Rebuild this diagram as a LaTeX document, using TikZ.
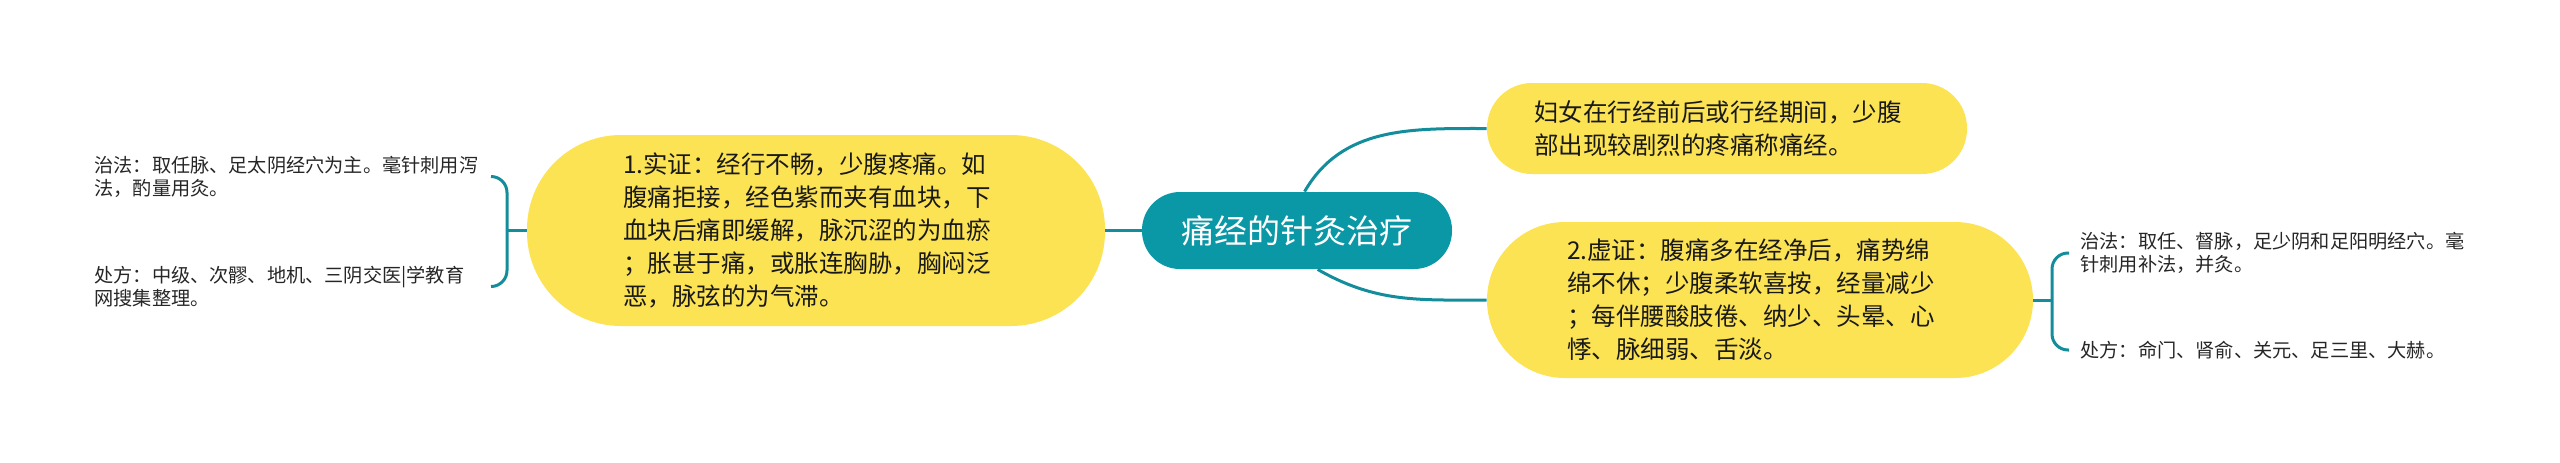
\documentclass[tikz,border=0pt]{standalone}
\usepackage{fontspec}
\newfontfamily\cjk{Noto Sans CJK SC}
\usetikzlibrary{calc}
\definecolor{huang}{HTML}{FCE354}
\definecolor{qing}{HTML}{0A97A6}
\definecolor{xian}{HTML}{138D9C}
\begin{document}
\begin{tikzpicture}[x=0.5pt,y=-0.5pt,
    pao/.style={fill=huang,rounded corners=#1,text width=193pt,align=left,text=black!90,
      font=\cjk\fontsize{12.25}{16.5}\selectfont},
    ye/.style={anchor=west,inner sep=0pt,align=left,text=black!85,
      font=\cjk\fontsize{9.6}{11.5}\selectfont},
    link/.style={draw=xian,line width=1.5pt}]
  \useasboundingbox (0,0) rectangle (2560,462);
  \node[fill=qing,rounded corners=19pt,minimum width=155pt,minimum height=38.5pt,
    text=white,font=\cjk\fontsize{16.5}{18}\selectfont] (tong) at (1297,230.5) {痛经的针灸治疗};
  \node[pao=47pt,minimum width=289pt,minimum height=95.5pt] (shi) at (816,230.5)
    {1.实证：经行不畅，少腹疼痛。如\\腹痛拒接，经色紫而夹有血块，下\\血块后痛即缓解，脉沉涩的为血瘀\\；胀甚于痛，或胀连胸胁，胸闷泛\\恶，脉弦的为气滞。};
  \node[pao=22.5pt,minimum width=240pt,minimum height=45.5pt] (dingyi) at (1727,128.5)
    {妇女在行经前后或行经期间，少腹\\部出现较剧烈的疼痛称痛经。};
  \node[pao=39pt,minimum width=273pt,minimum height=78pt] (xu) at (1760,300)
    {2.虚证：腹痛多在经净后，痛势绵\\绵不休；少腹柔软喜按，经量减少\\；每伴腰酸肢倦、纳少、头晕、心\\悸、脉细弱、舌淡。};
  % 左侧
  \node[ye] (lzf) at (94,176.5) {治法：取任脉、足太阴经穴为主。毫针刺用泻\\法，酌量用灸。};
  \node[ye] (lcf) at (94,286.5) {处方：中级、次髎、地机、三阴交医|学教育\\网搜集整理。};
  % 右侧
  \node[ye] (rzf) at (2080,253) {治法：取任、督脉，足少阴和足阳明经穴。毫\\针刺用补法，并灸。};
  \node[ye] (rcf) at (2080,350) {处方：命门、肾俞、关元、足三里、大赫。};
  \coordinate (lj) at (507,230.5);
  \coordinate (lt) at (491,176.5);
  \coordinate (lb) at (491,286.5);
  \coordinate (rj) at (2052,300);
  \coordinate (rt) at (2069,253);
  \coordinate (rb) at (2069,350);
  \draw[link] (shi) -- (tong);
  \draw[link] (tong.79) to[out=60,in=180] (dingyi.west);
  \draw[link] (tong.-62) to[out=-30,in=180] (xu.west);
  \draw[link] (shi.west) -- (lj);
  \draw[link,rounded corners=8pt] (lt) -| (lj) |- (lb);
  \draw[link] (xu.east) -- (rj);
  \draw[link,rounded corners=8pt] (rt) -| (rj) |- (rb);
\end{tikzpicture}
\end{document}
